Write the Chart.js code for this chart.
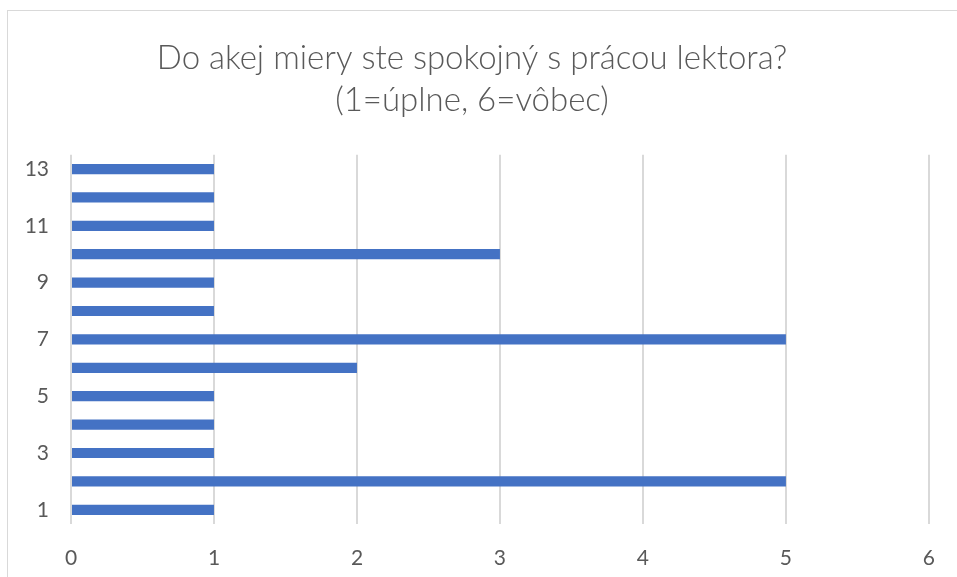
<!DOCTYPE html>
<html>
<head>
<meta charset="utf-8">
<script src="https://cdn.jsdelivr.net/npm/chart.js@4/dist/chart.umd.min.js"></script>
<style>
  html, body { margin: 0; padding: 0; background: #fff; }
  #wrap { position: relative; width: 957px; height: 577px; overflow: hidden; }
  #frame { position: absolute; left: 7px; top: 10px; width: 970px; height: 600px; border: 1px solid #d9d9d9; box-sizing: border-box; }
  canvas { position: absolute; left: 0; top: 0; }
</style>
</head>
<body>
<div id="wrap">
  <div id="frame"></div>
  <canvas id="c" width="957" height="577"></canvas>
</div>
<script>
const titleLines = ['Do akej miery ste spokojný s prácou lektora?', '(1=úplne, 6=vôbec)'];
const categories = ['1','2','3','4','5','6','7','8','9','10','11','12','13'];
const values = [1, 5, 1, 1, 1, 2, 5, 1, 1, 3, 1, 1, 1];
const xTicks = [0, 1, 2, 3, 4, 5, 6];

const FONT = 'Lato, "Open Sans", sans-serif';
new Chart(document.getElementById('c'), {
  type: 'bar',
  data: {
    labels: categories,
    datasets: [{
      data: values,
      backgroundColor: '#4472c4',
      borderWidth: 0,
      barPercentage: 0.72,
      categoryPercentage: 0.5
    }]
  },
  options: {
    indexAxis: 'y',
    responsive: false,
    animation: false,
    layout: { padding: { left: 10, right: 23, top: 0, bottom: 0 } },
    plugins: {
      legend: { display: false },
      tooltip: { enabled: false },
      title: {
        display: true,
        text: titleLines,
        color: '#595959',
        font: { family: FONT, size: 33, weight: '300', lineHeight: 1.27 },
        padding: { top: 37, bottom: 34 }
      }
    },
    scales: {
      y: {
        reverse: true,
        grid: { display: false },
        border: { display: false },
        ticks: {
          color: '#595959',
          font: { family: FONT, size: 21 },
          padding: 14,
          autoSkip: false,
          callback: function(v, i) { const l = this.getLabelForValue(v); return (Number(l) % 2 === 1) ? l : ''; }
        },
        afterFit: s => { s.width = 61; }
      },
      x: {
        min: 0, max: 6,
        afterBuildTicks: s => { s.ticks = xTicks.map(v => ({ value: v })); },
        grid: { color: '#d9d9d9', lineWidth: 2, drawTicks: false },
        border: { display: false },
        ticks: {
          color: '#595959',
          font: { family: FONT, size: 21 },
          padding: 22
        },
        afterFit: s => { s.height = 53; }
      }
    }
  }
});
</script>
</body>
</html>
